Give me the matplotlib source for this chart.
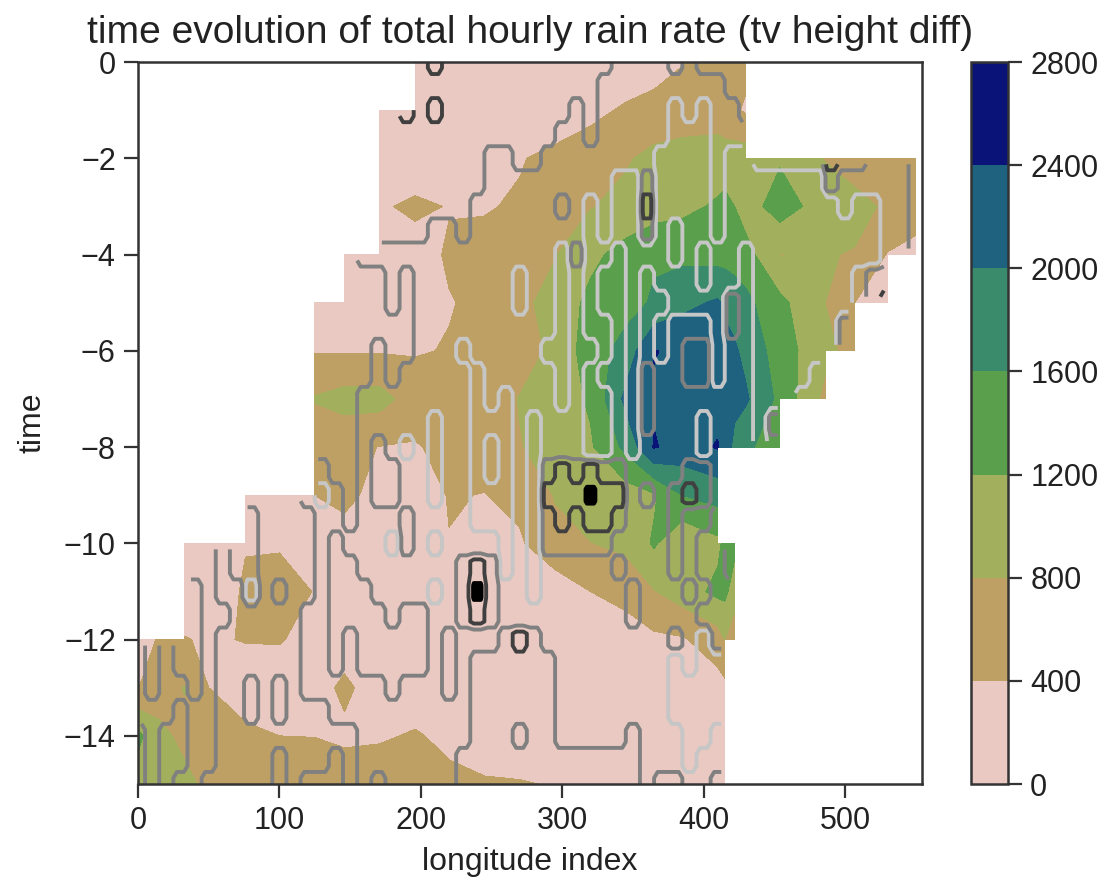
import numpy as np
import matplotlib
matplotlib.use("Agg")
import matplotlib.pyplot as plt
from matplotlib.colors import BoundaryNorm, ListedColormap
from matplotlib.cm import ScalarMappable

plt.rcParams['font.family'] = ['Liberation Sans', 'DejaVu Sans']
N = float('nan')

LONS = [0,15,33,50,76,100,125,146,171,196,220,245,270,295,320,345,365,385,410,415,422,430,454,486,507,530,550]
HOURS = [0,-1,-2,-3,-4,-5,-6,-7,-8,-9,-10,-11,-12,-13,-14,-15]
LEVELS = [0,400,800,1200,1600,2000,2400,2800]
COLORS = ['#e9c9c1','#bea064','#a2af5c','#5aa04c','#3a8a6c','#1f6280','#0a1478']
RAIN = [
 [N]*9+[150,150,150,150,150,150,150,200,380,500,500,500,500]+[N]*5,
 [N]*8+[100,100,100,100,150,200,300,450,550,600,600,500,450,350]+[N]*5,
 [N]*8+[100,120,150,220,380,480,600,760,900,950,1000,1000,1000,1000,1150,780,650,550,450],
 [N]*8+[350,480,380,380,430,600,780,900,1000,1100,1250,1300,1200,1000,1400,1000,900,750,550],
 [N]*7+[150,150,220,450,480,520,780,1100,1350,1550,1500,1450,1450,1400,1350,790,820,780,380,300],
 [N]*6+[120,120,120,150,380,480,700,950,1300,1450,1650,1900,2050,1950,1850,1700,1300,800,400,300,N],
 [N]*6+[370,370,370,370,420,480,600,900,1400,1750,2420,2300,2100,2100,2050,1900,1400,900,650,N,N],
 [N]*6+[830,950,950,600,560,550,820,1000,1250,2100,2350,2350,2250,2200,2100,2050,1500,700,N,N,N],
 [N]*6+[500,500,390,370,500,550,780,950,1150,1700,2430,2250,2430,2200,1900,1700,1300,N,N,N,N],
 [N]*4+[150,200,400,550,200,200,420,390,500,820,1000,1000,1150,1600,1750]+[N]*8,
 [N]*2+[150,150,380,350,200,150,150,150,390,200,350,700,790,900,1250,850,1100,1300,1300]+[N]*6,
 [N]*2+[150,150,450,600,380,120,120,120,120,120,120,150,400,500,780,1000,1300,1300,1000]+[N]*6,
 [300,420,420,350,420,430,250,150,150,150,150,150,150,150,150,250,320,360,600,800,500]+[N]*6,
 [390,600,820,400,150,150,200,500,150,150,120,120,120,120,120,120,120,120,250,300]+[N]*7,
 [1300,900,700,550,500,400,390,300,350,440,300,150,200,150,120,120,120,120,120,120]+[N]*7,
 [1000,1100,900,700,600,600,700,700,650,600,500,450,420,380,150,120,120,120,120,120]+[N]*7,
]

# second field: half-hour rows, one column per 10 longitude indices
TV_LON_STEP = 10
TV_NCOL = 56
TV_NROW = 31
TV_BACKGROUND = 3
TV_LOW = {
 2:"38 40", 3:"38-40", 4:"37-40 42-43", 5:"34-35 37-40 42-48",
 6:"32 34-35 37-40 42-49 51-52", 7:"32 34-35 37 39-40 42-52",
 8:"30 32-33 35-37 39 41-42 44-52", 9:"27 30 32 35 37-39 41-42 44-50",
 10:"27 30 32 35 38-41 44-50", 11:"30 32-33 35 37 41 44-49",
 12:"23 29-30 33 35 37 41 44-49", 13:"24 30 32 35 41 44-47",
 14:"24 26 30 32-33 35 44-46", 15:"21 24-26 28 32-33 35 40 44",
 16:"19 21 24 26 28 32-33 35 40 44", 17:"21 24 26 28", 18:"13 21 24-26 28",
 19:"24-26 28", 20:"18 21 26 28", 21:"26 28", 22:"8 21 28", 23:"8 41",
 24:"40-41", 25:"38 40-41", 26:"38-41", 27:"38-41", 28:"39-40", 29:"39",
}
TV_HIGH = {
 0:"0-33 38 40-43", 1:"0-32 42-43", 2:"0-30 32 43", 3:"0-29 32",
 4:"0-24 27-28 49-51 55", 5:"0-24 36 49 55", 6:"0-23 30 36 55",
 7:"0-20 23 36 55", 8:"0-15 31 55", 9:"0-17 19 52-53", 10:"0-17 19 42 52-53",
 11:"0-19 42 50", 12:"0-16 18-19 39-40 50", 13:"0-16 18 36 39-40",
 14:"0-15 36", 15:"0-15 36 45", 16:"0-15 17", 17:"14-15 17-18 29-34 39-40",
 18:"8-11 15 17-18 29-34 36 38-40", 19:"9-12 15 19 29-34 38 41",
 20:"6 9-12 14 19 29-33 38 40-41", 21:"6 9-12 14-15 23-25 34 38 40-41",
 22:"4 6-7 9 11-12 14-16 23-25 35 39 41-42",
 23:"4 7-11 14-17 19-20 23-25 35 40-42",
 24:"1 3-4 6-11 14 16-20 22 26-28 38 41-42",
 25:"1 3-4 6-11 14 16-20 22 24-29 42", 26:"1 4 6-7 9 11 18 22 24-29",
 27:"3 6-7 9 11-13 24-29", 28:"0 2-3 6-15 24-26 28-29 35",
 29:"0 2-3 6-9 11-13 15 23-35", 30:"0 2 5-9 11 15 17 23-35 37-38 41",
}
TV_DARK = {
 0:"21", 2:"19 21", 4:"49", 6:"36", 10:"53", 17:"30 32",
 18:"29-31 33-34 39", 19:"30 32-33", 21:"24", 23:"24", 24:"27",
}
TV_PEAK = {18:"32", 22:"24"}
TV_VALUES = {'low':1, 'high':5, 'dark':6, 'peak':7}
TV_LEVELS = [2, 4, 5.5, 6.8]
TV_COLORS = ['#c6c6c6', '#808080', '#404040', '#000000']
TV_REFINE = 2


def bands(text):
    out = []
    for part in text.split():
        a, _, b = part.partition('-')
        out.extend(range(int(a), int(b or a) + 1))
    return out


tv = np.full((TV_NROW, TV_NCOL), float(TV_BACKGROUND))
for table, key in ((TV_LOW,'low'), (TV_HIGH,'high'), (TV_DARK,'dark'), (TV_PEAK,'peak')):
    for row, text in table.items():
        tv[row, bands(text)] = TV_VALUES[key]

rain = np.array(RAIN, dtype=float)
lons = np.array(LONS, dtype=float)
hours = np.array(HOURS, dtype=float)

# the second field is defined only where the rain field is
edges = []
for row in rain:
    ok = lons[np.isfinite(row)]
    edges.append((ok.min(), ok.max()))
spans = [(max(edges[i][0], edges[i+1][0]), min(edges[i][1], edges[i+1][1])) for i in range(len(edges)-1)]

offs = (np.arange(TV_REFINE) - (TV_REFINE - 1) / 2) / TV_REFINE
tv_lon = (np.arange(TV_NCOL)[:, None] + offs).ravel() * TV_LON_STEP
tv_time = -((np.arange(TV_NROW)[:, None] + offs).ravel()) / 2
fine = np.repeat(np.repeat(tv, TV_REFINE, axis=0), TV_REFINE, axis=1)
for r, t in enumerate(tv_time):
    h = min(max(int(np.floor(-t)), 0), len(spans) - 1)
    lo, hi = spans[h]
    fine[r, (tv_lon < lo) | (tv_lon > hi)] = np.nan

W, H = 1112, 883
fig = plt.figure(figsize=(W/100, H/100), dpi=100)
ax = fig.add_axes([138/W, (H-784)/H, 784/W, 722/H])
cmap = ListedColormap(COLORS)
norm = BoundaryNorm(LEVELS, cmap.N)
ax.contourf(lons, hours, rain, levels=LEVELS, cmap=cmap, norm=norm, corner_mask=False)
ax.contour(tv_lon, tv_time, fine, levels=TV_LEVELS, colors=TV_COLORS, linewidths=2.8)
ax.contourf(tv_lon, tv_time, fine, levels=[TV_LEVELS[-1], 8], colors=TV_COLORS[-1:])
ax.set_xlim(0, 554.5)
ax.set_ylim(-15, 0)
ax.set_xticks([0,100,200,300,400,500])
ax.set_yticks([0,-2,-4,-6,-8,-10,-12,-14])
ax.set_yticklabels(['0','\u22122','\u22124','\u22126','\u22128','\u221210','\u221212','\u221214'])
ax.tick_params(labelsize=22, length=10, width=1.6, pad=6, color='#333333', labelcolor='#222222')
for s in ax.spines.values():
    s.set_linewidth(1.8)
    s.set_color('#333333')
ax.set_xlabel('longitude index', fontsize=23, color='#222222', labelpad=8)
ax.set_ylabel('time', fontsize=23, color='#222222', labelpad=12)
ax.set_title('time evolution of total hourly rain rate (tv height diff)', fontsize=28.1, color='#222222', pad=14)

cax = fig.add_axes([971/W, (H-784)/H, 37/W, 722/H])
cb = fig.colorbar(ScalarMappable(norm=norm, cmap=cmap), cax=cax, ticks=LEVELS)
cb.ax.tick_params(labelsize=22, length=10, width=1.6, pad=6, color='#333333', labelcolor='#222222')
cb.outline.set_linewidth(1.8)
cb.outline.set_edgecolor('#333333')
fig.savefig('out.png', dpi=100)
